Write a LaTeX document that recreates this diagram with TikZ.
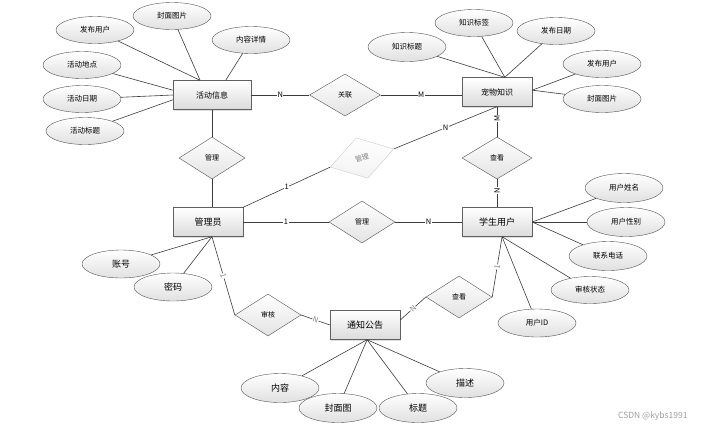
\documentclass[tikz,border=0pt]{standalone}
\usepackage{fontspec}
\setmainfont{Noto Sans CJK SC}
\usepackage{tikz}
\usetikzlibrary{shapes.geometric,shadows,calc}
\definecolor{edgecol}{RGB}{60,60,60}

\begin{document}
\begin{tikzpicture}[x=1pt, y=-1pt,
  entity/.style={draw=gray!75!black, top color=white, bottom color=gray!28, minimum width=70pt, minimum height=29pt, inner sep=1pt, font=\fontsize{8}{9}\selectfont, drop shadow={shadow xshift=1.2pt, shadow yshift=-1.2pt, opacity=0.25}},
  attr/.style={ellipse, draw=gray!65!black, top color=white, bottom color=gray!24, minimum width=78pt, minimum height=27pt, inner sep=0pt, font=\fontsize{7.5}{9}\selectfont},
  rel/.style={diamond, draw=gray!65!black, top color=white, bottom color=gray!22, minimum width=66pt, minimum height=42pt, inner sep=0pt, font=\fontsize{7}{8}\selectfont},
  link/.style={draw=edgecol, line width=0.6pt},
  card/.style={fill=white, inner sep=0.5pt, font=\fontsize{7.5}{8}\selectfont}
]
\fill[white] (0,0) rectangle (708,429);
\useasboundingbox (0,0) rectangle (708,429);

% entities
\node[entity, minimum width=78pt] (hd) at (212,95) {活动信息};
\node[entity] (zs) at (497,92) {宠物知识};
\node[entity, font=\fontsize{9}{10}\selectfont] (gly) at (208,222) {管理员};
\node[entity, font=\fontsize{9}{10}\selectfont] (xs) at (497,222) {学生用户};
\node[entity, font=\fontsize{9}{10}\selectfont] (tz) at (365,325) {通知公告};

% relations
\node[rel, minimum width=71pt] (gl) at (345,95) {关联};
\node[rel] (gl2) at (212,158) {管理};
\node[rel, rotate=16, draw=gray!40, bottom color=gray!10, text=gray] (gk) at (362,158) {管理};
\node[rel] (gl3) at (362,222) {管理};
\node[rel, minimum width=70pt] (ck1) at (497,158) {查看};
\node[rel] (ck2) at (459,297) {查看};
\node[rel] (sh) at (268,315) {审核};

% attributes of 活动信息
\node[attr] (a1) at (95,30) {发布用户};
\node[attr] (a2) at (172,16) {封面图片};
\node[attr] (a3) at (251,40) {内容详情};
\node[attr] (a4) at (82,65) {活动地点};
\node[attr] (a5) at (82,99) {活动日期};
\node[attr] (a6) at (85,131) {活动标题};

% attributes of 宠物知识
\node[attr, minimum height=29pt] (b1) at (407,47) {知识标题};
\node[attr] (b2) at (474,23) {知识标签};
\node[attr] (b3) at (556,31) {发布日期};
\node[attr] (b4) at (602,64) {发布用户};
\node[attr] (b5) at (602,99) {封面图片};

% attributes of 学生用户
\node[attr, minimum height=29pt] (c1) at (624,188) {用户姓名};
\node[attr, minimum height=29pt] (c2) at (626,222) {用户性别};
\node[attr, minimum height=29pt] (c3) at (608,256) {联系电话};
\node[attr] (c4) at (590,290) {审核状态};
\node[attr, minimum height=28pt] (c5) at (537,323) {用户ID};

% attributes of 管理员
\node[attr, minimum height=28pt, font=\fontsize{9}{10}\selectfont] (d1) at (121,264) {账号};
\node[attr, minimum height=28pt, font=\fontsize{9}{10}\selectfont] (d2) at (173,287) {密码};

% attributes of 通知公告
\node[attr, minimum height=29pt, font=\fontsize{9}{10}\selectfont] (e1) at (280,388) {内容};
\node[attr, minimum height=29pt, font=\fontsize{9}{10}\selectfont] (e2) at (338,408) {封面图};
\node[attr, minimum height=29pt, font=\fontsize{9}{10}\selectfont] (e3) at (418,408) {标题};
\node[attr, minimum height=29pt, font=\fontsize{9}{10}\selectfont] (e4) at (465,383) {描述};

\node[text=gray!75, font=\fontsize{8.5}{10}\selectfont, anchor=east] (wm) at (691,416) {CSDN @kybs1991};

% attribute links
\draw[link] (a1) -- (hd.129);
\draw[link] (a2) -- (hd.129);
\draw[link] (a3) -- (hd.47);
\draw[link] (a4) -- (hd.173);
\draw[link] (a5) -- (hd.west);
\draw[link] (a6) -- (hd.187);
\draw[link] (b1) -- (zs.62);
\draw[link] (b2) -- (zs.62);
\draw[link] (b3) -- (zs.62);
\draw[link] (b4) -- (zs.3);
\draw[link] (b5) -- (zs.3);
\draw[link] (c1) -- (xs.east);
\draw[link] (c2) -- (xs.east);
\draw[link] (c3) -- (xs.east);
\draw[link] (c4) -- (xs.289);
\draw[link] (c5) -- (xs.289);
\draw[link] (d1) -- (gly.285);
\draw[link] (d2) -- (gly.285);
\draw[link] (e1) -- (tz.278);
\draw[link] (e2) -- (tz.278);
\draw[link] (e3) -- (tz.278);
\draw[link] (e4) -- (tz.278);

% relation links
\draw[link] (hd.east) -- node[card] {N} (gl.west);
\draw[link] (gl.east) -- node[card] {M} (gl.east -| zs.west);
\draw[link] (hd.south) -- (gl2.north);
\draw[link] (gl2.south) -- (gly.north -| gl2.south);
\draw[link] (gly.north east) -- node[card] {1} (gk.west);
\draw[link] (gk.east) -- node[card] {N} (zs.south);
\draw[link] (gly.east) -- node[card] {1} (gl3.west);
\draw[link] (gl3.east) -- node[card] {N} (xs.west);
\draw[link] (zs.south) -- node[card, rotate=90, pos=0.4] {M} (ck1.north);
\draw[link] (ck1.south) -- node[card, rotate=90, pos=0.4] {N} (xs.north);
\draw[link] (gly.285) -- node[card, sloped, text=gray] {1} (sh.west);
\draw[link] (sh.east) -- node[card, sloped, text=gray] {N} (tz.west);
\draw[link] (xs.289) -- node[card, sloped, text=gray] {1} (ck2.east);
\draw[link] (ck2.west) -- node[card, sloped, text=gray] {N} (tz.8);
\end{tikzpicture}
\end{document}
